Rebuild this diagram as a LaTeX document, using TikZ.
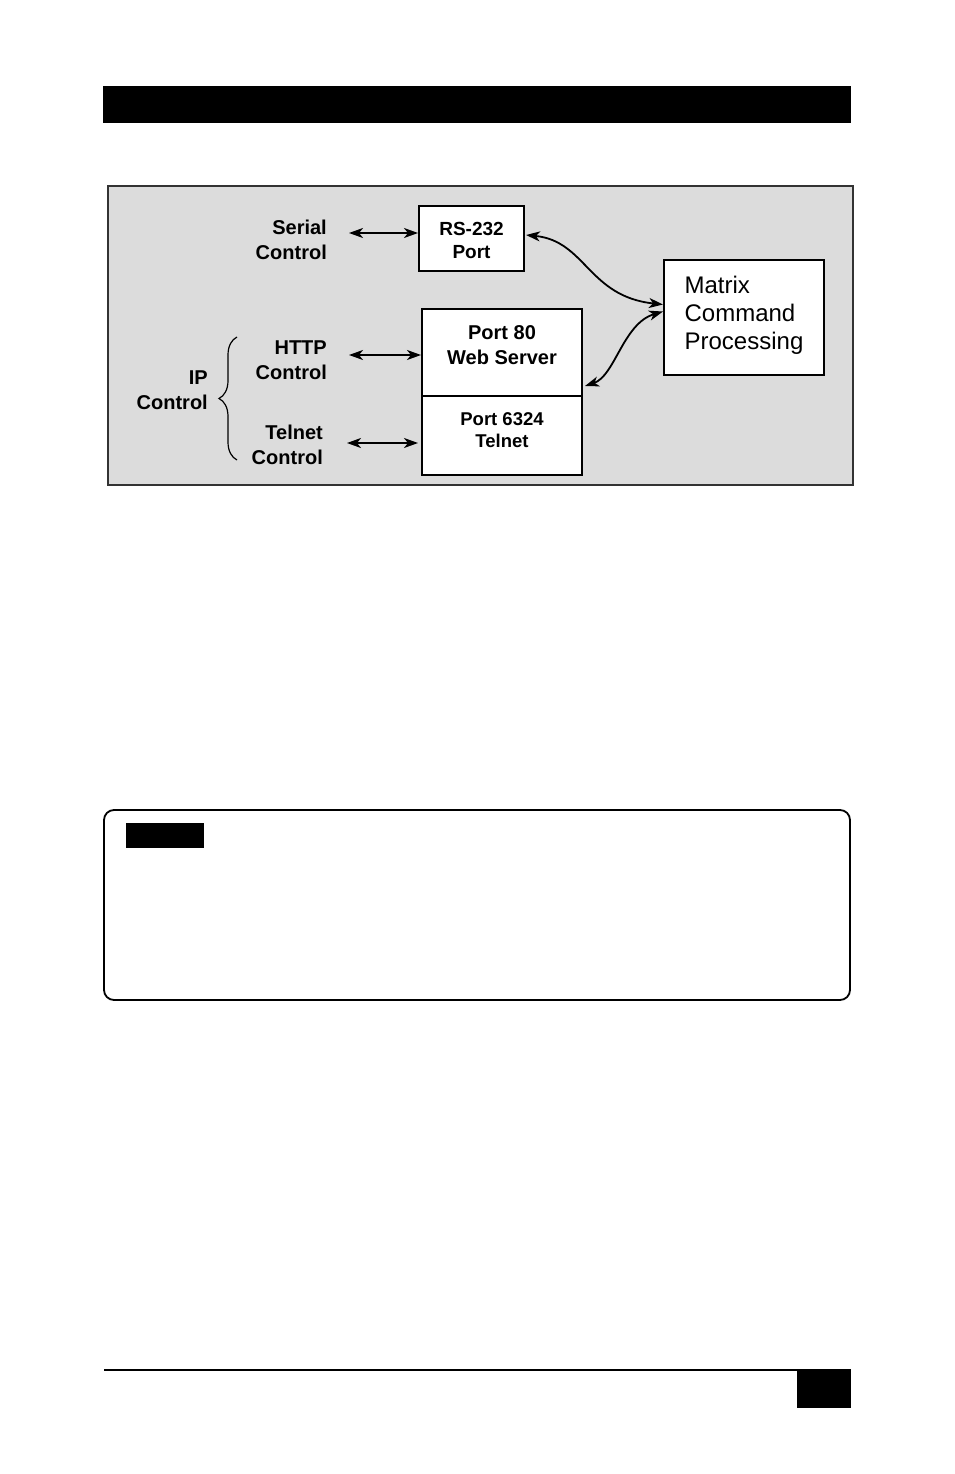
\documentclass[tikz,border=0pt]{standalone}
\usepackage{fontspec}
\setmainfont{Liberation Sans}
\usetikzlibrary{positioning,arrows.meta,decorations.pathreplacing}
\definecolor{panelgray}{RGB}{220,220,220}

\begin{document}
\begin{tikzpicture}[
  x=1pt, y=1pt,
  >={Stealth[length=14pt,width=10pt,inset=4pt]},
  lbl/.style={align=right, anchor=east, inner sep=0pt, font=\fontsize{20}{25}\selectfont\bfseries},
  portbox/.style={draw, fill=white, line width=2pt, align=center, inner sep=0pt, anchor=north west},
  dblarrow/.style={<->, line width=1.8pt}
]
\useasboundingbox (0,0) rectangle (954,-1474);

\fill (103,-86) rectangle (851,-123);
\draw[line width=1.8pt, draw=black!80, fill=panelgray] (108,-186) rectangle (853,-485);

\node[portbox, minimum width=105pt, text height=52pt, text depth=13pt,
      font=\fontsize{19}{23}\selectfont\bfseries] (rs) at (418,-205) {RS-232\\Port};
\node[portbox, minimum width=160pt, text height=55pt, text depth=32pt,
      font=\fontsize{20}{25}\selectfont\bfseries] (web) at (421,-308) {Port 80\\Web Server};
\node[portbox, anchor=north, minimum width=160pt, text height=51.6pt, text depth=27.8pt,
      font=\fontsize{18.5}{22}\selectfont\bfseries, below=-2pt of web] (tel) {Port 6324\\Telnet};
\node[portbox, align=left, minimum width=160pt, text height=89pt, text depth=26pt,
      font=\fontsize{24}{28}\selectfont] (mcp) at (663,-259) {Matrix\\Command\\Processing};

\node[lbl] (serial) at (327,-240) {Serial\\Control};
\node[lbl] (http) at (327,-360) {HTTP\\Control};
\node[lbl] (telnet) at (323,-445) {Telnet\\Control};
\node[lbl] (ip) at (208,-390) {IP\\Control};

\coordinate (brbot) at (237,-460);
\coordinate (brtop) at (237,-337);
\draw[decorate, decoration={brace, amplitude=18pt}, line width=1.2pt] (brbot) -- (brtop);

\draw[dblarrow] ([xshift=22pt,yshift=7pt]serial.east) -- ([yshift=7pt]serial.east -| rs.west);
\draw[dblarrow] ([xshift=22pt,yshift=5pt]http.east) -- ([yshift=5pt]http.east -| web.west);
\draw[dblarrow, shorten >=3pt] ([xshift=24pt,yshift=2pt]telnet.east) -- ([yshift=2pt]telnet.east -| tel.west);
\draw[dblarrow] ([xshift=1pt,yshift=3.5pt]rs.east) .. controls +(60,-6) and +(-75,8) .. ([yshift=13pt]mcp.west);
\draw[dblarrow] ([xshift=2pt,yshift=11pt]web.south east) .. controls +(30,10) and +(-40,-12) .. ([yshift=6pt]mcp.west);

\draw[line width=1.8pt, rounded corners=10pt] (104,-810) rectangle (850,-1000);
\fill (126,-823) rectangle (204,-848);

\draw[line width=2pt] (104,-1370) -- (851,-1370);
\fill (797,-1370) rectangle (851,-1408);
\end{tikzpicture}
\end{document}
